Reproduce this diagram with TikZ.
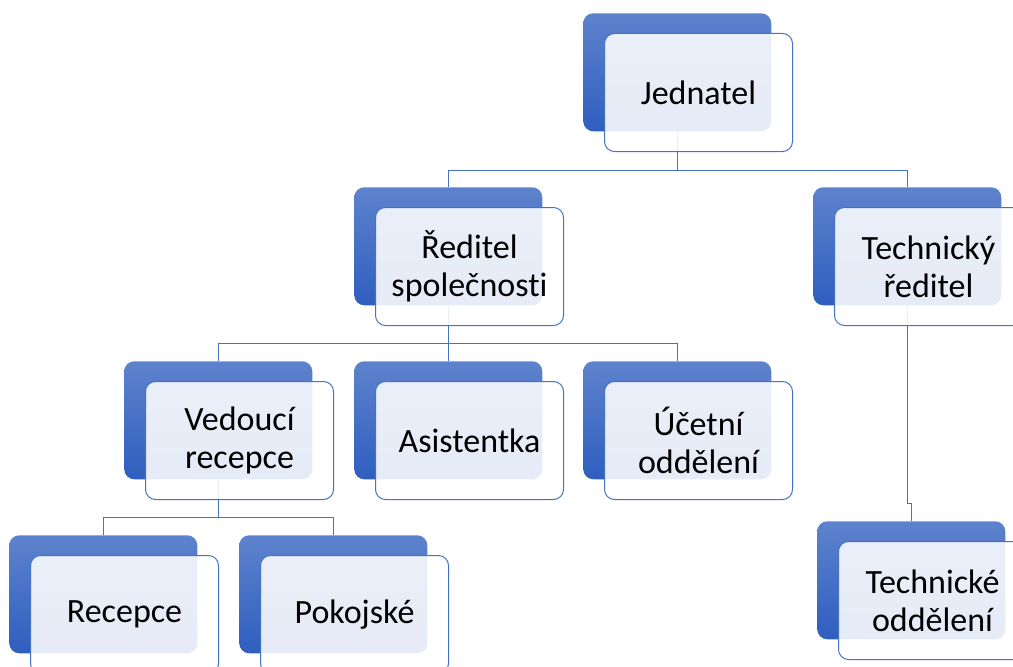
\documentclass[tikz,border=0pt]{standalone}
\usepackage{fontspec}
\setmainfont{Carlito}[Ligatures={NoCommon}]
\usepackage{xcolor}
\usetikzlibrary{calc,positioning,backgrounds}
\definecolor{boxtop}{HTML}{5E83CD}
\definecolor{boxbot}{HTML}{2F5EBF}
\definecolor{edge}{HTML}{4472C4}
\newcommand{\BoxFont}{\fontsize{25.5}{28.4}\selectfont}
\tikzset{
  backbox/.style={rounded corners=7.5pt, top color=boxtop, bottom color=boxbot, draw=none,
                  minimum width=141pt, minimum height=88.5pt, inner sep=0pt, anchor=north west},
  frontbox/.style={rounded corners=7.5pt, draw=edge, line width=0.75pt, fill=white, fill opacity=0.88,
                   text opacity=1, minimum width=141pt, minimum height=88.5pt, inner sep=0pt,
                   align=center, font=\BoxFont, text=black},
  link/.style={draw=edge, line width=0.75pt},
}
% one org-chart box: blue back card, pale front card with the text
\newcommand{\OrgBox}[4]{%
  \node[backbox] (#1b) at (#2,#3) {};
  \node[frontbox, below right=15pt and 15.75pt of #1b.north west] (#1) {#4};
}
\begin{document}
\begin{tikzpicture}[x=0.75pt,y=-0.75pt]
  \useasboundingbox (0,0) rectangle (1013,667);
  \OrgBox{jed}{583}{13}{Jednatel}
  \OrgBox{red}{354}{187}{Ředitel\\společnosti}
  \OrgBox{tec}{813}{187}{Technický\\ředitel}
  \OrgBox{ved}{124}{361}{Vedoucí\\recepce}
  \OrgBox{asi}{354}{361}{Asistentka}
  \OrgBox{uce}{583}{361}{Účetní\\oddělení}
  \OrgBox{rec}{9}{535}{Recepce}
  \OrgBox{pok}{239}{535}{Pokojské}
  \OrgBox{tob}{817}{521}{Technické\\oddělení}
  \begin{scope}[on background layer]
    \draw[link] (jedb.south) -- ++(0,39) -| (redb.north);
    \draw[link] (jedb.south) -- ++(0,39) -| (tecb.north);
    \draw[link] (redb.south) -- ++(0,38) -| (vedb.north);
    \draw[link] (redb.south) -- ++(0,38) -| (asib.north);
    \draw[link] (redb.south) -- ++(0,38) -| (uceb.north);
    \draw[link] (vedb.south) -- ++(0,38) -| (recb.north);
    \draw[link] (vedb.south) -- ++(0,38) -| (pokb.north);
    \draw[link] (tecb.south) -- ++(0,198) -| (tobb.north);
  \end{scope}
\end{tikzpicture}
\end{document}
